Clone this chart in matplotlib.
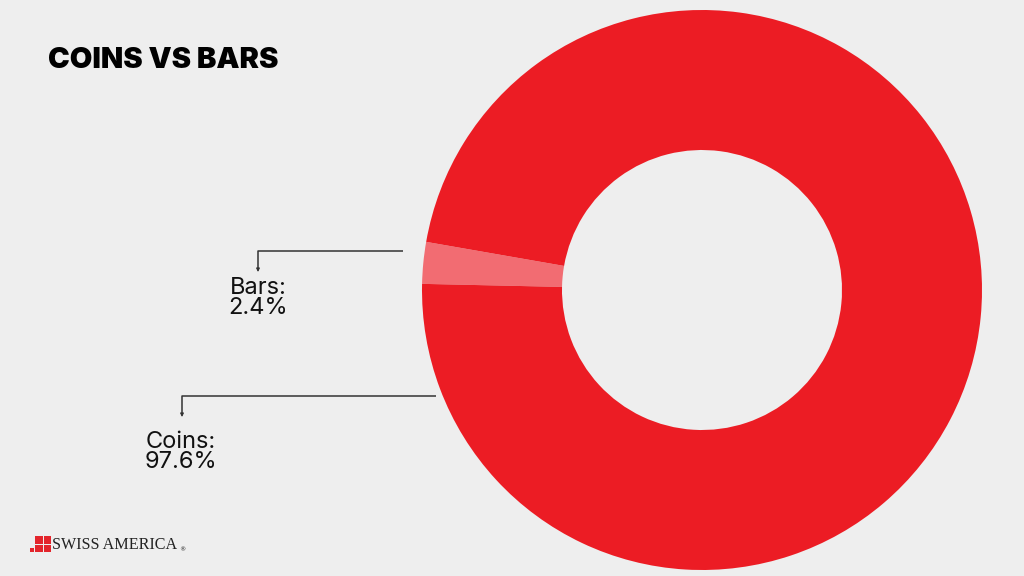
import matplotlib
matplotlib.use("Agg")
import matplotlib.pyplot as plt
from matplotlib.patches import Rectangle

categories = ["Bars", "Coins"]
values = [2.4, 97.6]
label_texts = ["Bars:\n2.4%", "Coins:\n97.6%"]
colors = ["#F26C72", "#EC1C24"]
title = "COINS VS BARS"

BG = "#EEEEEE"
W, H = 1024, 576
fig = plt.figure(figsize=(W / 100, H / 100), dpi=100, facecolor=BG)
ax = fig.add_axes([0, 0, 1, 1])
ax.set_xlim(0, W)
ax.set_ylim(0, H)
ax.set_aspect("equal")
ax.axis("off")
ax.set_facecolor(BG)

def Y(py):
    return H - py

cx, cy, R = 702, Y(290), 280
wedges, _ = ax.pie(values, colors=colors, startangle=170.1, counterclock=True,
                   radius=R, center=(cx, cy), frame=True,
                   wedgeprops=dict(width=R * 0.5, linewidth=0))
ax.set_xlim(0, W)
ax.set_ylim(0, H)
ax.axis("off")

# Leader lines and labels
leaders = [
    dict(x0=403, y0=251, x1=258, y1=272, tx=258, ty=298),
    dict(x0=436, y0=396, x1=182, y1=417, tx=181, ty=452),
]
for lead, txt in zip(leaders, label_texts):
    ax.plot([lead["x0"], lead["x1"], lead["x1"]],
            [Y(lead["y0"]), Y(lead["y0"]), Y(lead["y1"]) + 3],
            color="#333333", lw=1.1, solid_capstyle="butt")
    ax.annotate("", xy=(lead["x1"], Y(lead["y1"])), xytext=(lead["x1"], Y(lead["y1"]) + 4),
                arrowprops=dict(arrowstyle="-|>", color="#333333", lw=0.8,
                                mutation_scale=5, shrinkA=0, shrinkB=0))
    ax.text(lead["tx"], Y(lead["ty"]), txt, ha="center", va="center",
            fontsize=17, family="Inter", color="#111111", linespacing=0.9)

ax.text(48, Y(61), title, ha="left", va="center", fontsize=21,
        family="Inter", fontweight="black", color="#000000")

# Logo
sq = 7.5
for dx, dy in [(0, 0), (sq + 1, 0), (0, sq + 1), (sq + 1, sq + 1)]:
    ax.add_patch(Rectangle((35 + dx, Y(552) + dy), sq, sq, color="#E3242B", lw=0))
ax.add_patch(Rectangle((30, Y(552)), 4, 4, color="#E3242B", lw=0))
ax.text(52, Y(545), "SWISS AMERICA", ha="left", va="center", fontsize=11.6,
        family="Liberation Serif", color="#222222")
ax.text(179.5, Y(550), "®", ha="left", va="center", fontsize=4.5,
        family="DejaVu Sans", color="#222222")

fig.savefig("out.png", dpi=100, facecolor=BG)
